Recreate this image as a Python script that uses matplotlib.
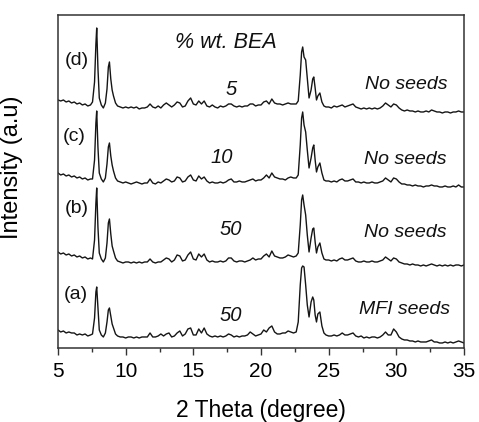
import matplotlib
matplotlib.use("Agg")
import matplotlib.pyplot as plt
from matplotlib.ticker import MultipleLocator

plt.rcParams['font.family'] = ['Liberation Sans', 'DejaVu Sans']

# 2-theta sampling grid (degrees)
two_theta = [5.0, 5.2, 5.4, 5.6, 5.8, 6.0, 6.2, 6.4, 6.6, 6.8, 7.0, 7.2, 7.4,
             7.55, 7.7, 7.8, 7.86, 7.95, 8.05, 8.2, 8.35, 8.5, 8.62, 8.72, 8.8, 8.9, 9.0, 9.1, 9.25, 9.4,
             9.6, 9.8, 10.0, 10.2, 10.4, 10.6, 10.8, 11.0, 11.2, 11.4,
             11.6, 11.8, 12.0, 12.2, 12.4, 12.6, 12.8, 13.0, 13.2, 13.4,
             13.6, 13.8, 14.0, 14.2, 14.4, 14.6, 14.8, 15.0, 15.2, 15.4,
             15.6, 15.8, 16.0, 16.2, 16.4, 16.6, 16.8, 17.0, 17.2, 17.4,
             17.6, 17.8, 18.0, 18.2, 18.4, 18.6, 18.8, 19.0, 19.2, 19.4,
             19.6, 19.8, 20.0, 20.2, 20.4, 20.6, 20.8, 21.0, 21.2, 21.4,
             21.6, 21.8, 22.0, 22.2, 22.4, 22.6,
             22.75, 22.9, 23.0, 23.08, 23.18, 23.3, 23.42, 23.55, 23.7, 23.82, 23.9, 24.0, 24.1, 24.2, 24.35, 24.5, 24.65,
             24.8, 25.0, 25.2, 25.4, 25.6, 25.8, 26.0, 26.2, 26.4, 26.6,
             26.8, 27.0, 27.2, 27.4, 27.6, 27.8, 28.0, 28.2, 28.4, 28.6,
             28.8, 29.0, 29.2, 29.4, 29.6, 29.8, 30.0, 30.2, 30.4, 30.6,
             30.8, 31.0, 31.2, 31.4, 31.6, 31.8, 32.0, 32.2, 32.4, 32.6,
             32.8, 33.0, 33.2, 33.4, 33.6, 33.8, 34.0, 34.2, 34.4, 34.6,
             34.8, 35.0]

# (a) 50 % BEA, MFI seeds
int_a = [10, 8, 9, 7, 8, 7, 7, 5, 6, 5, 6, 4, 5,
         6, 22, 48, 53, 32, 10, 5, 3, 7, 18, 30, 32, 24, 16, 12, 6, 4,
         3, 3, 2, 3, 3, 2, 3, 2, 3, 3,
         3, 7, 3, 3, 4, 6, 4, 6, 7, 3,
         4, 7, 9, 4, 6, 11, 12, 5, 5, 11,
         7, 12, 6, 4, 3, 4, 3, 4, 3, 4,
         6, 5, 3, 4, 3, 4, 4, 5, 8, 6,
         4, 5, 6, 10, 8, 12, 14, 8, 6, 6,
         7, 7, 9, 8, 7, 8,
         18, 55, 72, 74, 73, 55, 35, 23, 38, 43, 40, 25, 18, 26, 28, 14, 7,
         5, 4, 4, 5, 4, 5, 7, 5, 5, 6,
         7, 4, 3, 4, 2, 3, 2, 3, 3, 2,
         3, 5, 8, 5, 5, 11, 8, 3, 1, 0,
         0, -1, -1, -2, -1, -2, -2, -2, -1, 0,
         -2, -2, -3, -3, -2, -3, -2, -3, -2, -1,
         -2, -3]

# (b) 50 % BEA, no seeds
int_b = [13, 11, 12, 10, 11, 9, 10, 8, 9, 7, 8, 6, 7,
         6, 25, 62, 77, 38, 12, 6, 3, 7, 22, 42, 46, 31, 19, 14, 7, 4,
         3, 2, 3, 3, 2, 3, 2, 3, 2, 3,
         3, 6, 3, 2, 3, 3, 5, 7, 6, 3,
         5, 10, 9, 4, 5, 10, 13, 6, 5, 11,
         8, 11, 5, 3, 4, 3, 3, 4, 3, 4,
         7, 7, 4, 3, 4, 4, 3, 4, 5, 7,
         5, 6, 6, 9, 11, 8, 14, 9, 8, 7,
         7, 8, 10, 9, 8, 9,
         12, 40, 65, 70, 60, 50, 30, 13, 27, 36, 37, 23, 12, 18, 22, 12, 6,
         5, 5, 4, 5, 4, 6, 7, 5, 5, 6,
         7, 4, 3, 3, 4, 3, 3, 4, 3, 3,
         4, 5, 8, 6, 4, 7, 6, 3, 2, 1,
         1, 0, 1, 0, 0, -1, 0, -1, 0, 1,
         0, -1, 0, -1, 0, -1, 0, -1, 0, 0,
         -1, 0]

# (c) 10 % BEA, no seeds
int_c = [12, 10, 11, 9, 10, 8, 9, 7, 8, 6, 7, 5, 6,
         6, 25, 62, 74, 38, 12, 6, 3, 7, 21, 38, 42, 29, 20, 14, 7, 4,
         3, 2, 3, 2, 1, 2, 3, 2, 1, 2,
         2, 6, 2, 1, 3, 2, 4, 6, 5, 3,
         4, 8, 7, 3, 4, 8, 10, 5, 4, 9,
         6, 8, 4, 2, 3, 2, 2, 3, 2, 3,
         5, 6, 3, 3, 4, 3, 3, 4, 5, 6,
         4, 5, 5, 7, 10, 7, 12, 8, 7, 6,
         6, 5, 7, 8, 7, 7,
         10, 40, 67, 73, 60, 53, 35, 17, 27, 37, 40, 25, 13, 18, 22, 12, 5,
         4, 4, 3, 4, 3, 5, 6, 4, 4, 5,
         6, 3, 3, 2, 3, 2, 2, 3, 2, 2,
         3, 4, 7, 5, 3, 7, 6, 3, 1, 1,
         0, 0, -1, 0, -1, -1, -2, -1, -1, 0,
         -1, -1, -2, -2, -1, -2, -2, -1, -2, 0,
         -2, -2]

# (d) 5 % BEA, no seeds
int_d = [10, 9, 10, 8, 9, 7, 8, 6, 7, 5, 6, 4, 5,
         8, 28, 66, 82, 42, 12, 5, 2, 7, 21, 43, 48, 31, 20, 14, 7, 4,
         3, 2, 3, 2, 3, 2, 3, 1, 2, 2,
         3, 6, 3, 2, 4, 2, 5, 7, 5, 3,
         5, 8, 7, 3, 4, 9, 12, 6, 5, 9,
         6, 9, 4, 3, 5, 3, 2, 4, 3, 4,
         6, 6, 4, 3, 4, 3, 4, 4, 6, 6,
         4, 5, 5, 8, 9, 6, 11, 7, 6, 6,
         5, 6, 7, 6, 6, 6,
         9, 35, 58, 63, 53, 50, 32, 12, 20, 31, 33, 22, 10, 14, 17, 8, 4,
         3, 3, 2, 4, 3, 4, 5, 3, 4, 5,
         6, 3, 2, 1, 2, 1, 2, 1, 2, 1,
         2, 4, 7, 5, 3, 6, 5, 2, 0, -1,
         0, -1, -1, -2, -1, -2, -2, -1, -2, 0,
         -1, -2, -2, -3, -2, -2, -3, -2, -2, -1,
         -2, -2]

series = [int_a, int_b, int_c, int_d]
offsets = [8, 83, 163, 238]
sample_tags = ["(a)", "(b)", "(c)", "(d)"]
bea_wt = ["50", "50", "10", "5"]
seed_tags = ["MFI seeds", "No seeds", "No seeds", "No seeds"]

fig = plt.figure(figsize=(4.79, 4.22), dpi=100)
ax = fig.add_axes([0.1211, 0.1754, 0.8476, 0.7891])

for vals, off in zip(series, offsets):
    ax.plot(two_theta, [v + off for v in vals], color='#151515', lw=1.0)

ax.set_xlim(5, 35)
ax.set_ylim(0, 333)

# label positions (data coords)
tag_pos = [(6.33, 53), (6.40, 139), (6.18, 211), (6.40, 287)]
wt_pos = [(17.79, 32), (17.79, 118), (17.12, 190), (17.79, 258)]
seed_pos = [(30.57, 38), (30.65, 115), (30.65, 188), (30.72, 263)]
for t, p in zip(sample_tags, tag_pos):
    ax.text(p[0], p[1], t, fontsize=14, ha='center', va='center', color='#111111')
for t, p in zip(bea_wt, wt_pos):
    ax.text(p[0], p[1], t, fontsize=14.5, style='italic', ha='center', va='center', color='#111111')
for t, p in zip(seed_tags, seed_pos):
    ax.text(p[0], p[1], t, fontsize=14, style='italic', ha='center', va='center', color='#111111')
ax.text(17.42, 305, "% wt. BEA", fontsize=15.5, style='italic', ha='center', va='center', color='#111111')

ax.xaxis.set_major_locator(MultipleLocator(5))
ax.xaxis.set_minor_locator(MultipleLocator(2.5))
ax.tick_params(axis='x', which='major', direction='out', length=5, width=1.0, labelsize=15, pad=5, color='#333333')
ax.tick_params(axis='x', which='minor', direction='out', length=3, width=1.0, color='#333333')
ax.set_yticks([])
for s in ax.spines.values():
    s.set_linewidth(1.1)
    s.set_color('#333333')

ax.set_xlabel("2 Theta (degree)", fontsize=16.5, labelpad=13)
ax.set_ylabel("Intensity (a.u)", fontsize=17)
ax.yaxis.set_label_coords(-0.086, 0.5435)

fig.savefig("out.png", dpi=100)
